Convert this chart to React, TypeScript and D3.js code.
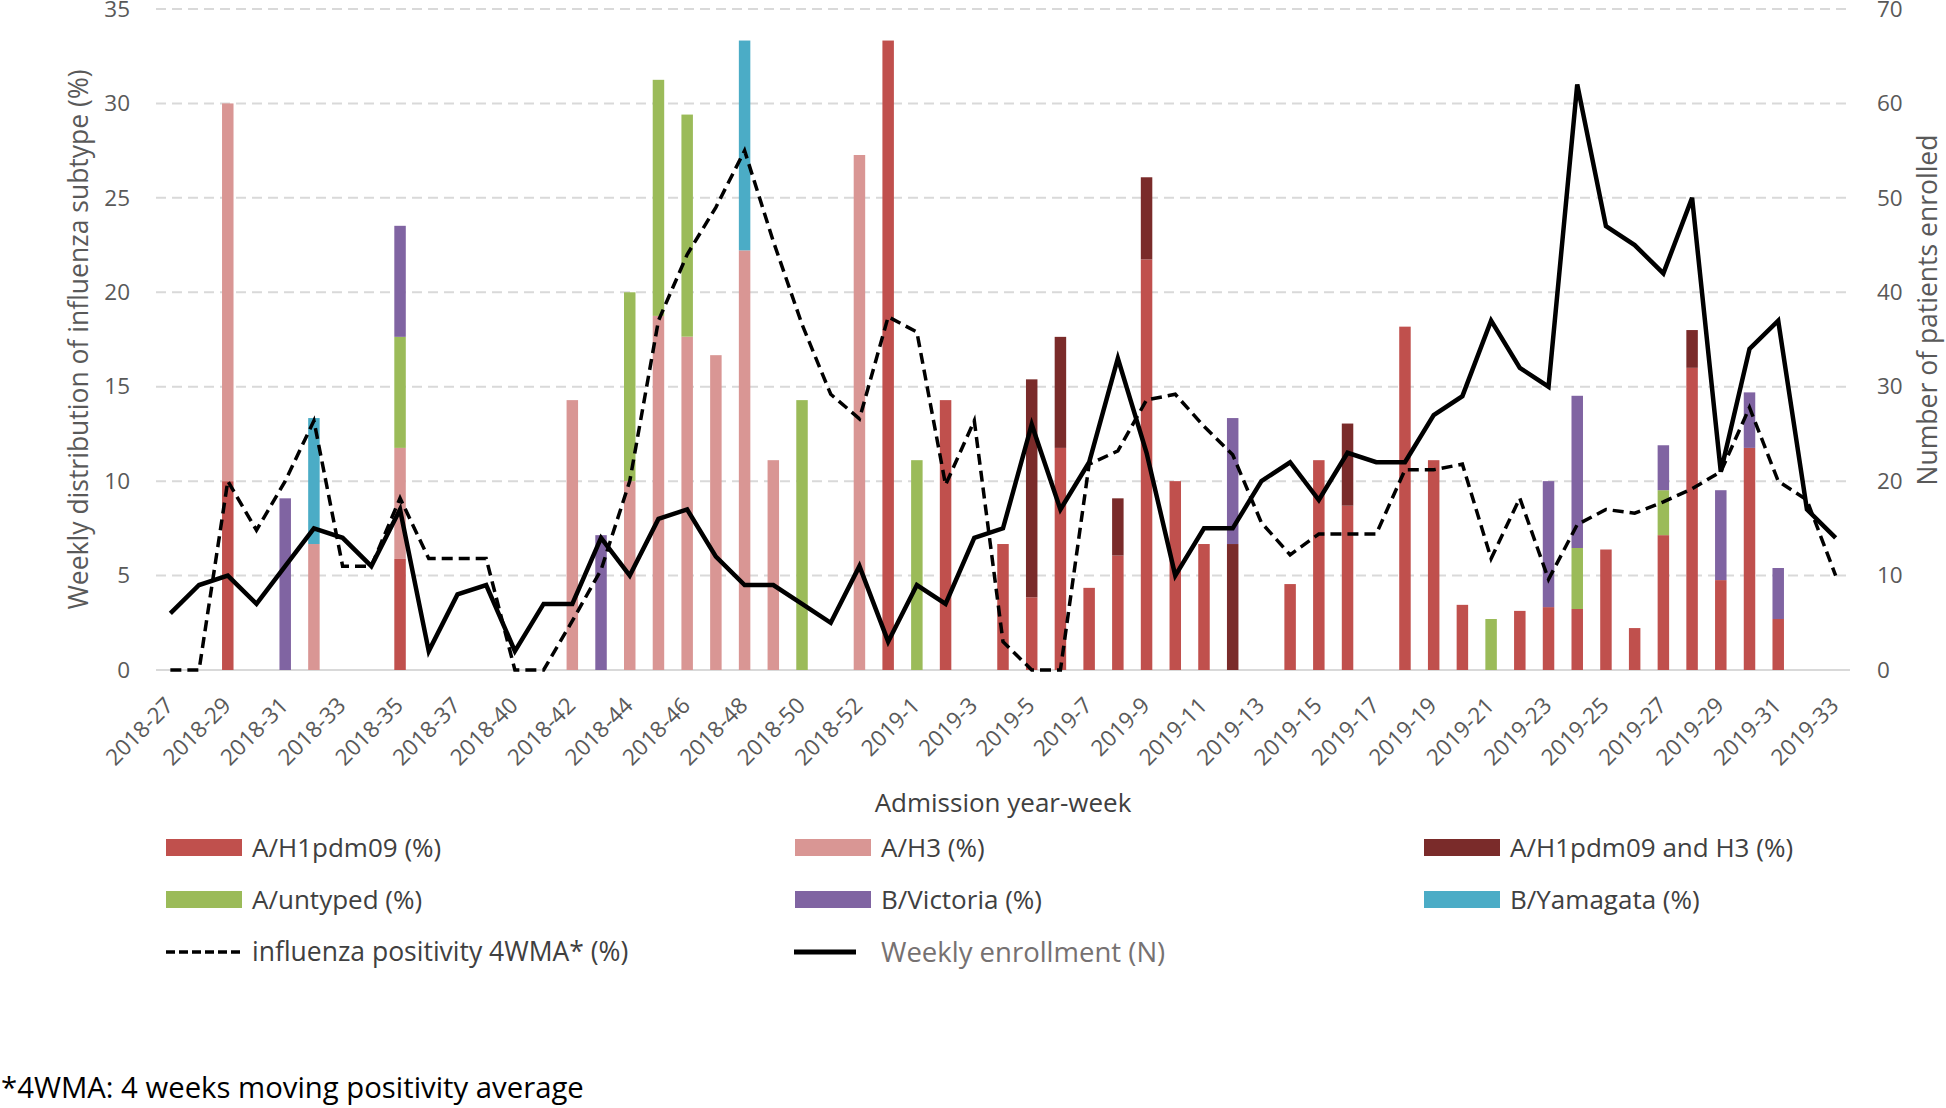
import React, { useEffect, useRef } from 'react';
import * as d3 from 'd3';

// admission year-week categories (2018-38 missing, 2018-53 present)
const weeks = [
  '2018-27', '2018-28', '2018-29', '2018-30', '2018-31', '2018-32', '2018-33', '2018-34', '2018-35', '2018-36',
  '2018-37', '2018-39', '2018-40', '2018-41', '2018-42', '2018-43', '2018-44', '2018-45', '2018-46', '2018-47',
  '2018-48', '2018-49', '2018-50', '2018-51', '2018-52', '2018-53', '2019-1', '2019-2', '2019-3', '2019-4',
  '2019-5', '2019-6', '2019-7', '2019-8', '2019-9', '2019-10', '2019-11', '2019-12', '2019-13', '2019-14',
  '2019-15', '2019-16', '2019-17', '2019-18', '2019-19', '2019-20', '2019-21', '2019-22', '2019-23', '2019-24',
  '2019-25', '2019-26', '2019-27', '2019-28', '2019-29', '2019-30', '2019-31', '2019-32', '2019-33',
];

// subtype distribution (%)
const h1pdm09 = [
  0, 0, 10, 0, 0, 0, 0, 0, 5.88, 0,
  0, 0, 0, 0, 0, 0, 0, 0, 0, 0,
  0, 0, 0, 0, 0, 33.33, 0, 14.29, 0, 6.67,
  3.85, 11.76, 4.35, 6.06, 21.74, 10, 6.67, 0, 0, 4.55,
  11.11, 8.7, 0, 18.18, 11.11, 3.45, 0, 3.13, 3.33, 3.23,
  6.38, 2.22, 7.14, 16, 4.76, 11.76, 2.7, 0, 0,
];
const h3 = [
  0, 0, 20, 0, 0, 6.67, 0, 0, 5.88, 0,
  0, 0, 0, 0, 14.29, 0, 10, 18.75, 17.65, 16.67,
  22.22, 11.11, 0, 0, 27.27, 0, 0, 0, 0, 0,
  0, 0, 0, 0, 0, 0, 0, 0, 0, 0,
  0, 0, 0, 0, 0, 0, 0, 0, 0, 0,
  0, 0, 0, 0, 0, 0, 0, 0, 0,
];
const h1h3 = [
  0, 0, 0, 0, 0, 0, 0, 0, 0, 0,
  0, 0, 0, 0, 0, 0, 0, 0, 0, 0,
  0, 0, 0, 0, 0, 0, 0, 0, 0, 0,
  11.54, 5.88, 0, 3.03, 4.35, 0, 0, 6.67, 0, 0,
  0, 4.35, 0, 0, 0, 0, 0, 0, 0, 0,
  0, 0, 0, 2, 0, 0, 0, 0, 0,
];
const untyped = [
  0, 0, 0, 0, 0, 0, 0, 0, 5.88, 0,
  0, 0, 0, 0, 0, 0, 10, 12.5, 11.76, 0,
  0, 0, 14.29, 0, 0, 0, 11.11, 0, 0, 0,
  0, 0, 0, 0, 0, 0, 0, 0, 0, 0,
  0, 0, 0, 0, 0, 0, 2.7, 0, 0, 3.23,
  0, 0, 2.38, 0, 0, 0, 0, 0, 0,
];
const victoria = [
  0, 0, 0, 0, 9.09, 0, 0, 0, 5.88, 0,
  0, 0, 0, 0, 0, 7.14, 0, 0, 0, 0,
  0, 0, 0, 0, 0, 0, 0, 0, 0, 0,
  0, 0, 0, 0, 0, 0, 0, 6.67, 0, 0,
  0, 0, 0, 0, 0, 0, 0, 0, 6.67, 8.06,
  0, 0, 2.38, 0, 4.76, 2.94, 2.7, 0, 0,
];
const yamagata = [
  0, 0, 0, 0, 0, 6.67, 0, 0, 0, 0,
  0, 0, 0, 0, 0, 0, 0, 0, 0, 0,
  11.11, 0, 0, 0, 0, 0, 0, 0, 0, 0,
  0, 0, 0, 0, 0, 0, 0, 0, 0, 0,
  0, 0, 0, 0, 0, 0, 0, 0, 0, 0,
  0, 0, 0, 0, 0, 0, 0, 0, 0,
];

// influenza positivity 4WMA (%)
const positivity = [
  0, 0, 10, 7.4, 10, 13.2, 5.5, 5.5, 9.1, 5.9,
  5.9, 5.9, 0, 0, 2.6, 5.3, 10, 18.5, 22, 24.5,
  27.5, 22.7, 18.3, 14.6, 13.3, 18.7, 17.9, 9.8, 13.2, 1.5,
  0, 0, 10.9, 11.6, 14.3, 14.6, 12.9, 11.4, 7.8, 6.1,
  7.2, 7.2, 7.2, 10.6, 10.6, 10.9, 5.9, 9.1, 4.8, 7.7,
  8.5, 8.3, 8.9, 9.6, 10.5, 13.9, 10, 9.0, 5.0,
];

// weekly enrollment (N)
const enrollment = [
  6, 9, 10, 7, 11, 15, 14, 11, 17, 2,
  8, 9, 2, 7, 7, 14, 10, 16, 17, 12,
  9, 9, 7, 5, 11, 3, 9, 7, 14, 15,
  26, 17, 22, 33, 23, 10, 15, 15, 20, 22,
  18, 23, 22, 22, 27, 29, 37, 32, 30, 62,
  47, 45, 42, 50, 21, 34, 37, 17, 14,
];

const leftTicks = [0, 5, 10, 15, 20, 25, 30, 35];
const rightTicks = [0, 10, 20, 30, 40, 50, 60, 70];

const subtypes = [
  { key: 'h1pdm09', label: 'A/H1pdm09 (%)', values: h1pdm09, color: '#C0504D' },
  { key: 'h3', label: 'A/H3  (%)', values: h3, color: '#D99694' },
  { key: 'h1h3', label: 'A/H1pdm09 and H3  (%)', values: h1h3, color: '#7A2B2A' },
  { key: 'untyped', label: 'A/untyped (%)', values: untyped, color: '#9BBB59' },
  { key: 'victoria', label: 'B/Victoria (%)', values: victoria, color: '#8064A2' },
  { key: 'yamagata', label: 'B/Yamagata (%)', values: yamagata, color: '#4BACC6' },
];

const FONT = '"Open Sans", "Noto Sans", sans-serif';

export default function App() {
  const svgRef = useRef<SVGSVGElement>(null);

  useEffect(() => {
    if (!svgRef.current) return;
    const svg = d3.select(svgRef.current);
    svg.selectAll('*').remove();

    const left = 156, right = 1850, top = 9, bottom = 670;

    const x = d3.scaleBand<string>()
      .domain(weeks)
      .range([left, right])
      .paddingInner(0.6)
      .paddingOuter(0.3);
    const bw = x.bandwidth();
    const cx = (i: number) => (x(weeks[i]) as number) + bw / 2;

    const yL = d3.scaleLinear().domain([0, 35]).range([bottom, top]);
    const yR = d3.scaleLinear().domain([0, 70]).range([bottom, top]);

    // gridlines
    svg.append('g')
      .selectAll('line')
      .data(leftTicks.filter(t => t > 0))
      .enter()
      .append('line')
      .attr('x1', left).attr('x2', right)
      .attr('y1', d => yL(d)).attr('y2', d => yL(d))
      .attr('stroke', '#D9D9D9')
      .attr('stroke-width', 2)
      .attr('stroke-dasharray', '10,6');

    svg.append('line')
      .attr('x1', left).attr('x2', right)
      .attr('y1', yL(0)).attr('y2', yL(0))
      .attr('stroke', '#D9D9D9')
      .attr('stroke-width', 2);

    // stacked bars
    const rows = weeks.map((w, i) => {
      const r: any = { week: w };
      subtypes.forEach(s => { r[s.key] = s.values[i]; });
      return r;
    });
    const stacked = d3.stack().keys(subtypes.map(s => s.key))(rows);

    svg.append('g')
      .selectAll('g')
      .data(stacked)
      .enter()
      .append('g')
      .attr('fill', (d, i) => subtypes[i].color)
      .selectAll('rect')
      .data(d => d.filter(p => p[1] - p[0] > 0))
      .enter()
      .append('rect')
      .attr('x', d => x((d.data as any).week) as number)
      .attr('width', bw)
      .attr('y', d => yL(d[1]))
      .attr('height', d => yL(d[0]) - yL(d[1]));

    // lines
    const idx = d3.range(weeks.length);
    const posLine = d3.line<number>().x(i => cx(i)).y(i => yL(positivity[i]));
    const enrLine = d3.line<number>().x(i => cx(i)).y(i => yR(enrollment[i]));

    svg.append('path')
      .attr('d', posLine(idx))
      .attr('fill', 'none')
      .attr('stroke', '#000')
      .attr('stroke-width', 3.5)
      .attr('stroke-dasharray', '11,6');

    svg.append('path')
      .attr('d', enrLine(idx))
      .attr('fill', 'none')
      .attr('stroke', '#000')
      .attr('stroke-width', 4.5)
      .attr('stroke-linejoin', 'miter');

    // axes
    const axL = svg.append('g')
      .attr('transform', `translate(${left},0)`)
      .call(d3.axisLeft(yL).tickValues(leftTicks).tickSize(0).tickPadding(26));
    const axR = svg.append('g')
      .attr('transform', `translate(${right},0)`)
      .call(d3.axisRight(yR).tickValues(rightTicks).tickSize(0).tickPadding(27));
    const axB = svg.append('g')
      .attr('transform', `translate(0,${bottom})`)
      .call(d3.axisBottom(x).tickValues(weeks.filter((w, i) => i % 2 === 0)).tickSize(0));

    [axL, axR, axB].forEach(a => {
      a.select('.domain').remove();
      a.selectAll('text')
        .attr('font-family', FONT)
        .attr('font-size', 22.5)
        .attr('fill', '#595959');
    });
    axB.selectAll('text')
      .attr('y', null)
      .attr('dy', null)
      .attr('text-anchor', 'end')
      .attr('transform', 'translate(4.5,37) rotate(-45)');

    // axis titles
    svg.append('text')
      .attr('transform', `translate(88,${(top + bottom) / 2}) rotate(-90)`)
      .attr('text-anchor', 'middle')
      .attr('font-family', FONT).attr('font-size', 26.5).attr('fill', '#595959')
      .text('Weekly distribution of influenza subtype (%)');

    svg.append('text')
      .attr('transform', 'translate(1937,310) rotate(-90)')
      .attr('text-anchor', 'middle')
      .attr('font-family', FONT).attr('font-size', 26.5).attr('fill', '#595959')
      .text('Number of patients enrolled');

    svg.append('text')
      .attr('x', (left + right) / 2).attr('y', 812)
      .attr('text-anchor', 'middle')
      .attr('font-family', FONT).attr('font-size', 26).attr('fill', '#404040')
      .text('Admission year-week');

    // legend
    const colX = [166, 795, 1424];
    const rowY = [839, 891];
    const lg = svg.append('g')
      .attr('font-family', FONT)
      .attr('font-size', 26)
      .style('white-space', 'pre');
    subtypes.forEach((s, i) => {
      const cxi = colX[i % 3];
      const ry = rowY[Math.floor(i / 3)];
      lg.append('rect')
        .attr('x', cxi).attr('y', ry).attr('width', 76).attr('height', 17)
        .attr('fill', s.color);
      lg.append('text')
        .attr('x', cxi + 86).attr('y', ry + 18)
        .attr('fill', '#404040')
        .text(s.label);
    });
    lg.append('line')
      .attr('x1', 166).attr('x2', 244).attr('y1', 952).attr('y2', 952)
      .attr('stroke', '#000').attr('stroke-width', 3.5).attr('stroke-dasharray', '9,4');
    lg.append('text')
      .attr('x', 252).attr('y', 961).attr('fill', '#404040')
      .attr('font-size', 26.5)
      .text('influenza positivity 4WMA* (%)');
    lg.append('line')
      .attr('x1', 794).attr('x2', 856).attr('y1', 952).attr('y2', 952)
      .attr('stroke', '#000').attr('stroke-width', 5);
    lg.append('text')
      .attr('x', 881).attr('y', 962).attr('fill', '#767171')
      .attr('font-size', 27.5)
      .text('Weekly enrollment (N)');

    // footnote
    svg.append('text')
      .attr('x', 1).attr('y', 1098)
      .attr('font-family', FONT).attr('font-size', 29.3).attr('fill', '#000')
      .text('*4WMA: 4 weeks moving positivity average');
  }, []);

  return (
    <svg
      ref={svgRef}
      width={1946}
      height={1108}
      style={{ position: 'absolute', left: 0, top: 0, display: 'block', background: '#fff' }}
    />
  );
}
